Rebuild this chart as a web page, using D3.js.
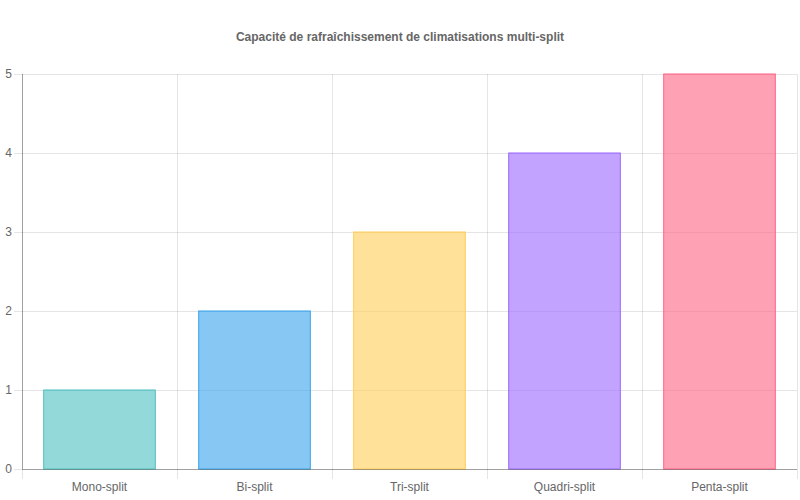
<!DOCTYPE html>
<html>
<head>
<meta charset="utf-8">
<script src="https://cdn.jsdelivr.net/npm/d3@7"></script>
<style>
  body { margin: 0; background: #fff; }
  svg { display: block; font-family: "Liberation Sans", Arial, sans-serif; }
</style>
</head>
<body>
<div id="chart"></div>
<script>
var categories = ["Mono-split", "Bi-split", "Tri-split", "Quadri-split", "Penta-split"];
var values = [1, 2, 3, 4, 5];
var yTicks = [0, 1, 2, 3, 4, 5];
var borderColors = ["rgb(75,192,192)", "rgb(54,162,235)", "rgb(255,205,86)", "rgb(153,102,255)", "rgb(255,99,132)"];
var title = "Capacité de rafraîchissement de climatisations multi-split";

var param = {
  width: 800,
  height: 500,
  left: 22,
  right: 797,
  top: 74,
  bottom: 469
};

function draw() {
  var svg = d3.select("#chart")
              .append("svg")
              .attr("width", param.width)
              .attr("height", param.height);

  var x = d3.scaleBand()
            .domain(categories)
            .range([param.left, param.right]);

  var y = d3.scaleLinear()
            .domain([0, 5])
            .range([param.bottom, param.top]);

  // title
  svg.append("text")
     .attr("x", param.width / 2)
     .attr("y", 41)
     .attr("text-anchor", "middle")
     .style("font-size", "12px")
     .style("font-weight", "bold")
     .style("fill", "#666")
     .text(title);

  // horizontal grid lines + y ticks
  svg.selectAll(".hgrid")
     .data(yTicks)
     .enter()
     .append("line")
     .attr("class", "hgrid")
     .attr("x1", param.left - 8)
     .attr("x2", param.right)
     .attr("y1", function(d) { return Math.round(y(d)) + 0.5; })
     .attr("y2", function(d) { return Math.round(y(d)) + 0.5; })
     .style("stroke", "rgba(0,0,0,0.1)")
     .style("stroke-width", 1);

  svg.selectAll(".ylabel")
     .data(yTicks)
     .enter()
     .append("text")
     .attr("class", "ylabel")
     .attr("x", param.left - 10)
     .attr("y", function(d) { return y(d) + 4; })
     .attr("text-anchor", "end")
     .style("font-size", "12px")
     .style("fill", "#666")
     .text(function(d) { return d; });

  // vertical grid lines
  var vLines = categories.map(function(c) { return x(c); }).concat([param.right]);
  svg.selectAll(".vgrid")
     .data(vLines)
     .enter()
     .append("line")
     .attr("class", "vgrid")
     .attr("x1", function(d) { return Math.round(d) + 0.5; })
     .attr("x2", function(d) { return Math.round(d) + 0.5; })
     .attr("y1", param.top)
     .attr("y2", param.bottom + 10)
     .style("stroke", "rgba(0,0,0,0.1)")
     .style("stroke-width", 1);

  // bars
  var barW = x.bandwidth() * 0.72;
  svg.selectAll(".bar")
     .data(values)
     .enter()
     .append("rect")
     .attr("class", "bar")
     .attr("x", function(d, i) { return x(categories[i]) + (x.bandwidth() - barW) / 2; })
     .attr("y", function(d) { return y(d); })
     .attr("width", barW)
     .attr("height", function(d) { return y(0) - y(d); })
     .style("fill", function(d, i) { return borderColors[i]; })
     .style("fill-opacity", 0.6)
     .style("stroke", function(d, i) { return borderColors[i]; })
     .style("stroke-width", 1);

  // axis lines
  svg.append("line")
     .attr("x1", param.left + 0.5)
     .attr("x2", param.left + 0.5)
     .attr("y1", param.top)
     .attr("y2", param.bottom)
     .style("stroke", "rgba(0,0,0,0.3)");

  svg.append("line")
     .attr("x1", param.left)
     .attr("x2", param.right)
     .attr("y1", param.bottom + 0.5)
     .attr("y2", param.bottom + 0.5)
     .style("stroke", "rgba(0,0,0,0.3)");

  // x labels
  svg.selectAll(".xlabel")
     .data(categories)
     .enter()
     .append("text")
     .attr("class", "xlabel")
     .attr("x", function(d) { return x(d) + x.bandwidth() / 2; })
     .attr("y", param.bottom + 22)
     .attr("text-anchor", "middle")
     .style("font-size", "12px")
     .style("fill", "#666")
     .text(function(d) { return d; });
}

draw();
</script>
</body>
</html>
